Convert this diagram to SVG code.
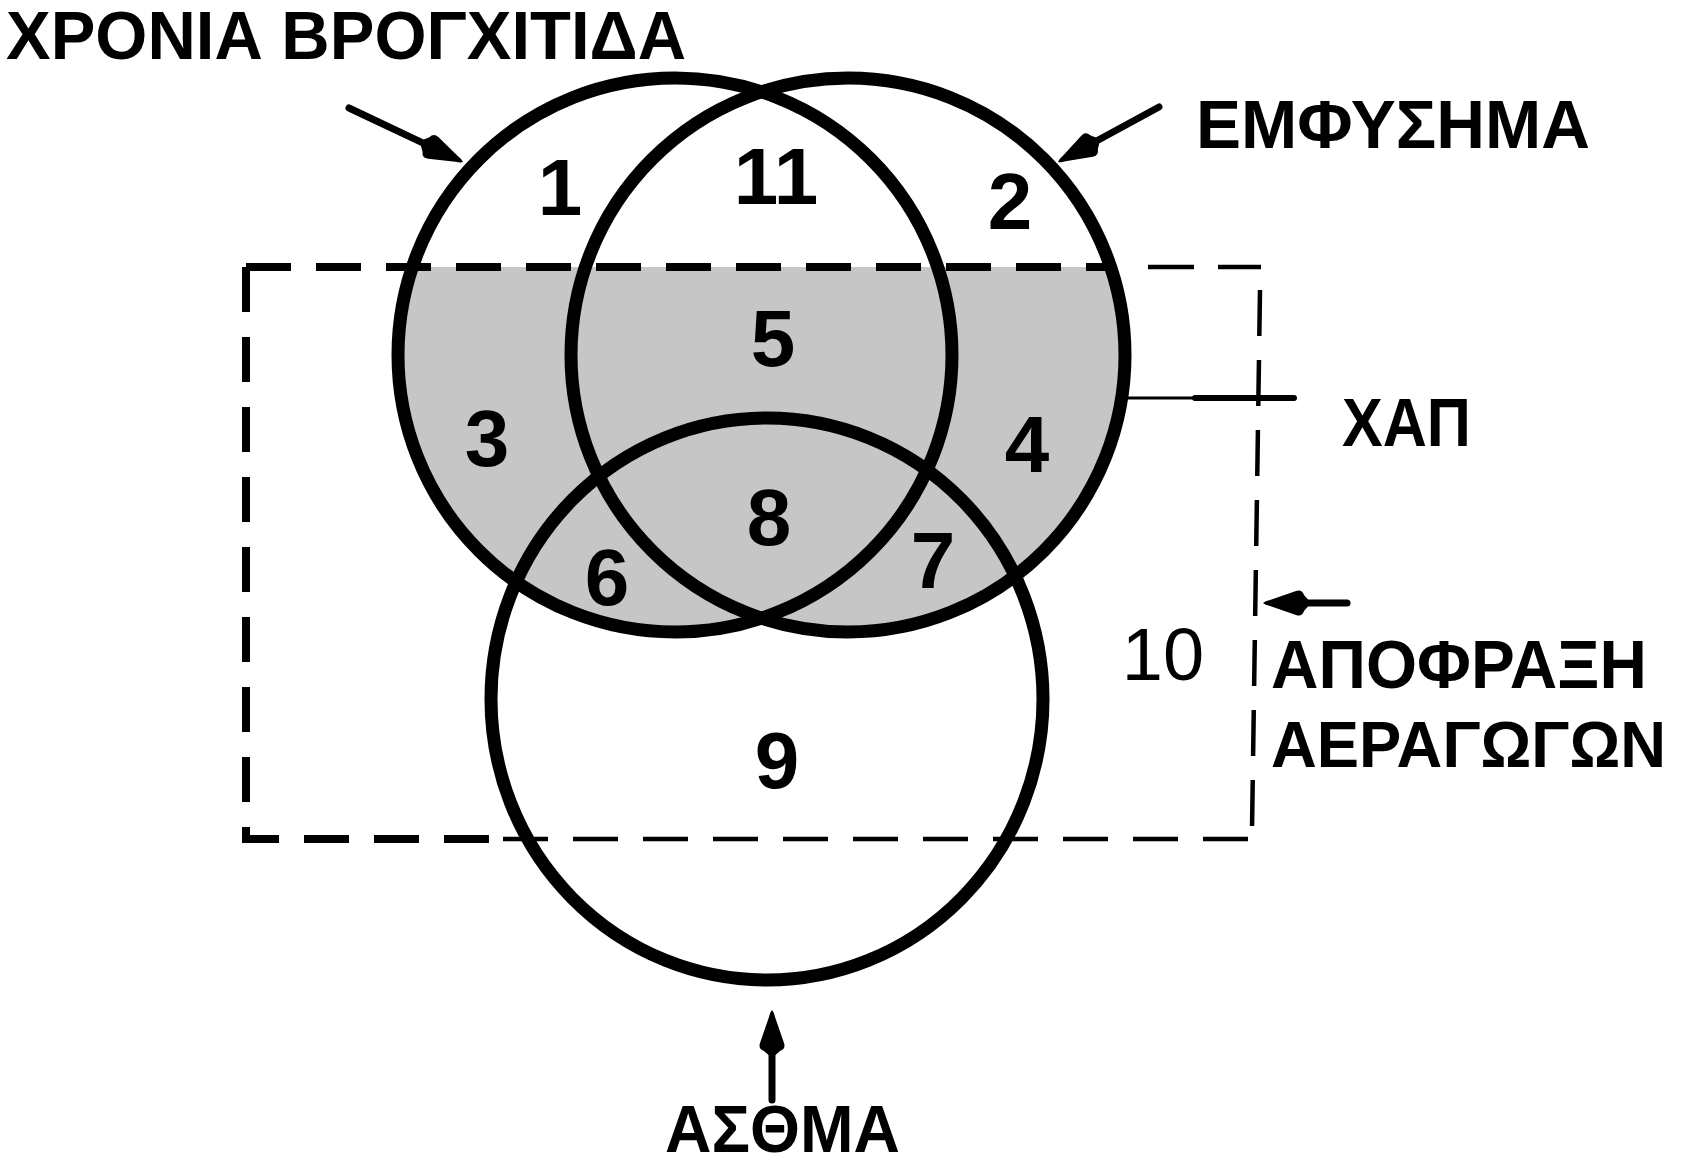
<svg xmlns="http://www.w3.org/2000/svg" width="1683" height="1167" viewBox="0 0 1683 1167">
<style>
.lbl{font-family:"Liberation Sans",Arial,sans-serif;font-weight:bold;font-size:68px;fill:#000}
.num{font-family:"Liberation Sans",Arial,sans-serif;font-weight:bold;font-size:80px;fill:#000;text-anchor:middle}
.num10{font-family:"Liberation Sans",Arial,sans-serif;font-weight:normal;font-size:74px;fill:#000;text-anchor:middle}
.ring{fill:none;stroke:#000;stroke-width:13}
.dthick{fill:none;stroke:#000;stroke-width:8;stroke-dasharray:45 25}
.dthin{fill:none;stroke:#000;stroke-width:4.5;stroke-dasharray:46 24}
.shaft{fill:none;stroke:#000;stroke-width:7;stroke-linecap:round;marker-end:url(#dart)}
</style>
<defs>
<clipPath id="below"><rect x="0" y="267" width="1683" height="900"/></clipPath>
<marker id="dart" markerUnits="userSpaceOnUse" markerWidth="60" markerHeight="40" viewBox="-5 -20 55 40" refX="8" refY="0" orient="auto">
<path d="M45,0 Q43,-2 38,-3 L12,-12 Q6,-14 4,-8 L0,-3.5 L0,3.5 L4,8 Q6,14 12,12 L38,3 Q43,2 45,0Z" fill="#000"/>
</marker>
</defs>
<rect width="1683" height="1167" fill="#fff"/>

<g id="copd-shading" clip-path="url(#below)" fill="#c6c6c6">
<circle cx="675" cy="355" r="277"/>
<circle cx="848" cy="355" r="277"/>
</g>

<g id="airflow-obstruction">
<path class="dthick" d="M246 267 V839 H495"/>
<path class="dthick" d="M246 267 H1110"/>
<path class="dthin" d="M1148 267 H1261"/>
<path class="dthin" d="M1260 290 L1252 830"/>
<path class="dthin" d="M503 839 H1250" style="stroke-dasharray:45 25"/>
<text class="lbl" x="1271" y="688" textLength="376" lengthAdjust="spacingAndGlyphs">ΑΠΟΦΡΑΞΗ</text>
<text class="lbl" x="1271" y="767" style="font-size:64px" textLength="395" lengthAdjust="spacingAndGlyphs">ΑΕΡΑΓΩΓΩΝ</text>
</g>

<g id="chronic-bronchitis">
<circle class="ring" cx="675" cy="355" r="277"/>
<text class="lbl" x="6" y="59" textLength="680" lengthAdjust="spacingAndGlyphs">ΧΡΟΝΙΑ ΒΡΟΓΧΙΤΙΔΑ</text>
</g>

<g id="emphysema">
<circle class="ring" cx="848" cy="355" r="277"/>
<text class="lbl" x="1196" y="148" textLength="394" lengthAdjust="spacingAndGlyphs">ΕΜΦΥΣΗΜΑ</text>
</g>

<g id="asthma">
<ellipse class="ring" cx="767" cy="699" rx="276" ry="281"/>
<text class="lbl" x="665" y="1152" style="font-size:66px" textLength="235" lengthAdjust="spacingAndGlyphs">ΑΣΘΜΑ</text>
</g>

<g id="copd">
<text class="lbl" x="1342" y="446" textLength="129" lengthAdjust="spacingAndGlyphs">ΧΑΠ</text>
</g>

<g id="regions">
<text class="num" x="560" y="215">1</text>
<text class="num" x="776" y="204">11</text>
<text class="num" x="1010" y="229">2</text>
<text class="num" x="773" y="366">5</text>
<text class="num" x="487" y="466">3</text>
<text class="num" x="1027" y="472">4</text>
<text class="num" x="769" y="545">8</text>
<text class="num" x="933" y="588">7</text>
<text class="num" x="607" y="605">6</text>
<text class="num" x="777" y="788">9</text>
<text class="num10" x="1163" y="680">10</text>
</g>

<g id="connectors">
<line class="shaft" x1="349" y1="108" x2="429.6" y2="146.2"/>
<line class="shaft" x1="1159" y1="107" x2="1090.5" y2="144.3"/>
<line class="shaft" x1="772" y1="1100" x2="772" y2="1047"/>
<line class="shaft" x1="1347" y1="603" x2="1300" y2="603"/>
<line x1="1125" y1="398" x2="1200" y2="398" stroke="#000" stroke-width="3"/>
<line x1="1195" y1="398" x2="1294" y2="398" stroke="#000" stroke-width="6" stroke-linecap="round"/>
</g>
</svg>
